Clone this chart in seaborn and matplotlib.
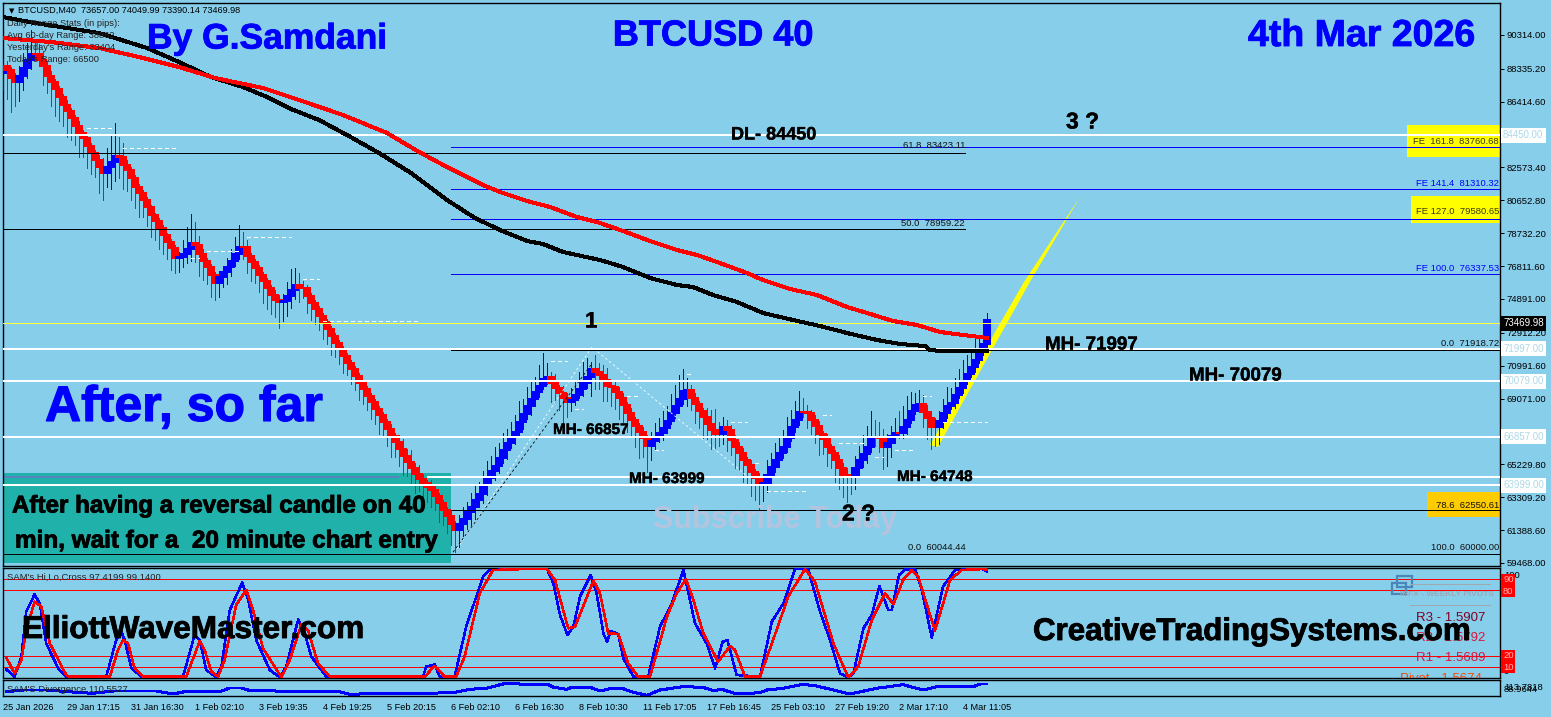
import matplotlib
matplotlib.use("Agg")
import matplotlib.pyplot as plt
import matplotlib.patheffects as pe
from matplotlib.patches import Rectangle
import seaborn as sns
import numpy as np

# 40 minute candles, one close per bar
closes = [
    88502, 88269, 87801, 87568, 87918, 88385, 88853, 89203, 89203, 88853,
    88502, 87918, 87568, 87159, 86691, 86224, 85873, 85464, 84997, 84588,
    84296, 83829, 83420, 83011, 82602, 82251, 82602, 82894, 83245, 83186,
    82719, 82427, 81959, 81433, 81083, 80674, 80265, 79798, 79447, 79038,
    78629, 78220, 77870, 77286, 77344, 77519, 77812, 78162, 78045, 77519,
    77110, 76760, 76293, 75825, 76176, 76466, 76760, 77110, 77519, 77928,
    77928, 77403, 77052, 76701, 76293, 75942, 75533, 75124, 74832, 74715,
    74773, 75065, 75416, 75708, 75533, 75533, 75065, 74656, 74306, 73897,
    73547, 73138, 72729, 72320, 71970, 71560, 71152, 70801, 70392, 69983,
    69632, 69224, 68873, 68465, 68114, 67705, 67296, 66887, 66537, 66128,
    65719, 65368, 65017, 64667, 64375, 64141, 63907, 63732, 63382, 62973,
    62564, 62213, 61746, 61395, 61746, 62038, 62447, 62739, 63148, 63498,
    64024, 64433, 64842, 65134, 65602, 66069, 66478, 66828, 67120, 67705,
    68172, 68640, 69049, 69457, 69808, 70217, 70334, 69983, 69691, 69399,
    69107, 68873, 68990, 69282, 69632, 69983, 70334, 70801, 70626, 70451,
    70158, 69808, 69749, 69457, 69107, 68698, 68231, 67822, 67471, 67120,
    66769, 66302, 66595, 66828, 67062, 67354, 67763, 68231, 68640, 69049,
    69516, 69574, 69107, 68756, 68347, 67997, 67588, 67237, 67004, 67004,
    67413, 67237, 66653, 66244, 65893, 65485, 65193, 64784, 64433, 64083,
    64141, 64609, 65076, 65485, 65893, 66244, 66770, 67413, 67822, 68290,
    68290, 68231, 67822, 67471, 67004, 66711, 66244, 65893, 65485, 65017,
    64609, 64550, 64492, 65017, 65485, 65836, 66244, 66828, 66828, 66770,
    66244, 66478, 66887, 67062, 67062, 67413, 67822, 68347, 68698, 68756,
    68289, 67938, 67413, 67413, 67763, 68231, 68640, 68815, 69282, 69691,
    70100, 70509, 70918, 71327, 71794, 72262, 73664,
]
first_open = 88100
upper_wick = [
    400, 300, 200, 300, 600, 900, 1000, 1400, 800, 600,
    500, 300, 300, 200, 200, 200, 300, 200, 200, 300,
    200, 200, 200, 200, 300, 500, 1100, 1500, 1900, 1100,
    800, 300, 200, 200, 200, 200, 200, 100, 100, 200,
    200, 100, 200, 200, 300, 800, 1300, 1700, 1200, 500,
    300, 200, 200, 200, 300, 300, 500, 700, 1000, 1300,
    900, 400, 200, 200, 200, 200, 200, 200, 300, 300,
    400, 800, 1200, 1000, 700, 400, 200, 200, 200, 200,
    150, 200, 150, 200, 150, 200, 200, 150, 200, 200,
    200, 150, 200, 200, 150, 200, 200, 300, 200, 400,
    600, 400, 700, 300, 500, 300, 200, 400, 300, 200,
    200, 200, 300, 200, 500, 700, 600, 800, 900, 700,
    800, 1000, 900, 1100, 900, 1000, 800, 900, 1000, 1200,
    900, 1100, 1000, 900, 1200, 1500, 800, 300, 500, 200,
    400, 300, 700, 800, 1000, 1200, 1100, 400, 800, 500,
    600, 700, 300, 400, 300, 300, 200, 300, 200, 200,
    300, 200, 500, 800, 900, 1000, 900, 1100, 1200, 1400,
    1300, 700, 300, 300, 200, 200, 500, 800, 1200, 700,
    600, 400, 300, 300, 300, 300, 200, 300, 200, 300,
    300, 900, 800, 1000, 900, 1000, 1200, 1000, 1100, 1200,
    800, 400, 200, 300, 300, 200, 300, 200, 200, 300,
    300, 400, 500, 700, 800, 1100, 1200, 1500, 1000, 900,
    500, 500, 600, 900, 1300, 1200, 1400, 1100, 700, 800,
    500, 400, 400, 500, 600, 800, 1100, 900, 1000, 1100,
    1200, 1100, 1000, 1200, 1000, 700, 400,
]
lower_wick = [
    1000, 1700, 2000, 1400, 1100, 800, 600, 500, 300, 200,
    1100, 1000, 1400, 1600, 1400, 1200, 1500, 1300, 1100, 1400,
    1100, 1300, 1200, 1000, 1500, 1600, 800, 1300, 1100, 1200,
    1400, 1200, 1300, 1200, 1400, 1000, 1100, 1300, 1100, 1200,
    1100, 1000, 1300, 900, 800, 600, 500, 700, 1000, 1300,
    1100, 1000, 1300, 1000, 800, 600, 700, 500, 300, 300,
    700, 1000, 1100, 900, 1000, 1300, 1200, 1100, 1000, 1500,
    1100, 900, 700, 500, 800, 600, 1000, 1000, 900, 800,
    1000, 900, 1100, 800, 900, 1000, 700, 900, 800, 1000,
    900, 800, 1000, 900, 1100, 800, 1000, 1200, 900, 1000,
    1100, 800, 1000, 1100, 700, 1000, 900, 1000, 800, 1100,
    900, 1000, 1200, 1300, 1000, 700, 600, 800, 700, 400,
    500, 600, 300, 500, 400, 300, 500, 300, 400, 300,
    400, 300, 500, 400, 300, 200, 300, 1100, 800, 1000,
    1500, 900, 500, 300, 200, 400, 300, 1100, 1000, 800,
    1200, 900, 1100, 1000, 1200, 1000, 1100, 900, 1200, 1500,
    1100, 1500, 800, 500, 300, 400, 300, 200, 300, 400,
    300, 900, 700, 1100, 1000, 1200, 900, 1100, 800, 700,
    600, 1200, 900, 1200, 1000, 1300, 1100, 1400, 1300, 1600,
    1000, 500, 600, 300, 400, 300, 300, 200, 300, 300,
    300, 900, 800, 1000, 1200, 900, 1100, 900, 1300, 1200,
    1300, 1500, 1000, 700, 500, 400, 500, 300, 500, 800,
    1300, 1100, 800, 400, 300, 300, 400, 200, 200, 300,
    900, 1200, 1300, 1100, 1000, 400, 300, 200, 300, 200,
    300, 200, 200, 300, 200, 200, 300,
]

# moving averages
black_ma_bars = [0, 8, 16, 24, 36, 44, 52, 60, 66, 72, 79, 86, 94, 102, 111, 118, 124.25, 131, 135, 140,
                 149.25, 155, 161.75, 168.5, 172.5, 177.5, 183.5, 190, 197.5, 204.25, 211, 218.5, 224.25,
                 230.5, 231.75, 234.25, 246]
black_ma = [91365, 91014, 90722, 90430, 89554, 88736, 87860, 87276, 86691, 85990, 85348, 84471, 83420,
            82251, 80674, 79622, 78921, 78279, 78104, 77636, 77169, 76760, 76117, 75708, 75591, 75124,
            74715, 74072, 73664, 73313, 72904, 72495, 72262, 72145, 71911, 71853, 71853]
red_ma_bars = [0, 12, 24, 34, 44, 53, 65, 74, 85, 96, 104, 111, 120, 124.25, 131, 136.75, 143.5, 148.5,
               155, 161.75, 168.5, 173.5, 178.5, 186, 190, 196.75, 203.5, 211, 216, 222.5, 228.5, 234.25, 246]
red_ma = [90138, 89904, 89554, 89028, 88444, 87801, 87217, 86516, 85640, 84588, 83478, 82602, 81550,
          81141, 80616, 80265, 79681, 79389, 78863, 78279, 77753, 77461, 77052, 76409, 76000, 75474,
          75124, 74423, 74072, 73605, 73372, 72963, 72612]

# price levels
white_levels = [84450, 71997, 70079, 66857, 63999]
low_level = 64490  # no tag on the scale, runs under the teal box
full_black_levels = [83423.11, 78959.22, 60000.00]
fib_black_levels = [71918.72, 62550.61]
fe_levels = [83760.68, 81310.32, 79580.65, 76337.53]
bid_price = 73469.98

# right hand scale
price_ticks = [90314.00, 88335.20, 86414.60, 82573.40, 80652.80, 78732.20, 76811.60, 74891.00,
               72912.20, 70991.60, 69071.00, 67150.40, 65229.80, 63309.20, 61388.60, 59468.00]

# dotted pivots drawn after swings
pivot_start = [21, 30, 47, 51, 61, 75, 80, 106, 137, 143, 156, 163, 171, 182, 188, 191, 205, 209, 218, 223, 230, 235]
pivot_end = [28, 44, 49, 59, 72, 79, 104, 111, 141, 145, 159, 165, 172, 186, 189, 201, 207, 216, 220, 228, 232, 246]
pivot_price = [84880, 83712, 77286, 77695, 78512, 76058, 73605, 64492, 71268, 68465, 69224, 66069,
               70509, 67705, 65309, 63674, 68114, 66478, 65660, 66069, 69224, 67705]

# wave drawing
wedge_bars = [231.75, 255.25, 269.25, 257, 233.75]
wedge_prices = [66361, 75884, 80849, 76000, 66245]
zig_bars_white = [113.5, 147.25, 186.25]
zig_prices_white = [60300, 72086, 64492]
zig_bars_black = [112.5, 147]
zig_prices_black = [60100, 71035]

# SAM's Hi,Lo,Cross
hilo_blue_bars = [0.8, 2.9, 4.6, 5.8, 7.9, 9.2, 10.8, 13.8, 15.8, 25.8, 28.3, 29.6, 30.4, 32.1, 34.6, 45,
                  47.9, 49.2, 50.8, 53.3, 54.6, 56.7, 59.8, 61.3, 63.3, 66.7, 69.2, 70.8, 73.8, 75.4,
                  77.1, 80.8, 105, 105.8, 107.9, 109.2, 112.9, 115.8, 120, 121.7, 130, 136, 137.6,
                  139.25, 141.1, 142.6, 144.25, 146.9, 148.4, 150.1, 151, 151.9, 153.8, 155.1, 157.6,
                  161.3, 164.25, 167.2, 170.1, 173, 175.9, 178, 179.9, 181.1, 183.4, 189.25, 192.2,
                  195.1, 198, 201.3, 204.25, 206.75, 209.25, 211.3, 212.6, 215.1, 217.2, 219.1, 221.3,
                  222.2, 224, 225.5, 228, 229.7, 232.2, 235, 238, 245, 246]
hilo_blue = [7.9, 1.2, 19.4, 60.3, 76, 67.9, 31.5, 8.8, 1.2, 1.2, 34.5, 42.1, 34.5, 8.8, 1.2, 1.2,
             39.1, 34.5, 7.3, 0.6, 10.3, 61.8, 86.7, 70.9, 34.5, 7.3, 0.6, 10.3, 53.3, 40.6,
             19.4, 1.2, 1.2, 10.3, 12.4, 1.2, 1.2, 46.7, 92.1, 98.2, 99, 99, 86,
             57.3, 39.1, 46.7, 73.9, 93.6, 77, 40.6, 33, 42.7, 40, 17.9, 1.2,
             1.2, 46.7, 67.9, 98.2, 49.7, 31.5, 8.8, 33, 34.5, 2.7, 1.2, 51.2,
             67.9, 99, 99, 60.3, 34.5, 4.2, 0.6, 4.2, 45.2, 57.3, 83.6, 61.8,
             61.8, 93.6, 98.8, 98.8, 80, 36.7, 83, 98.2, 99, 96.7]
hilo_red_bars = [0.8, 2.9, 4.6, 5.8, 7.9, 9.6, 11.7, 15.8, 16.7, 26.7, 28.75, 30, 31.25, 32.9, 35, 45.8,
                 49.2, 50.4, 52.1, 53.75, 55.4, 58.3, 60.8, 62.5, 65, 69.6, 71.7, 74.6, 76.25, 78.75,
                 81.7, 105.4, 107.9, 110.4, 113.3, 115.4, 119.2, 122.5, 130, 136, 138, 141.3, 143,
                 147.6, 149.25, 151.3, 153.8, 156.3, 158.8, 161.75, 166, 168.4, 170.75, 172.6, 175.1,
                 178.8, 181.75, 183, 185.5, 189.25, 193.4, 196.3, 200.5, 203, 207.6, 211.3, 213.8,
                 217.2, 220.5, 222.6, 225, 227.2, 228.8, 233, 236.75, 239.7, 245, 246]
hilo_red = [18.8, 4.2, 16.4, 43.6, 69.4, 64.8, 31.5, 2.7, 1.2, 1.2, 25.5, 34.5, 31.5, 8.8, 1.2, 1.2,
            33.6, 25.5, 5.8, 1.2, 16.4, 66.4, 80, 61.8, 27, 0.6, 16.4, 49, 43.6, 13.3,
            1.2, 1.2, 10.9, 1.2, 1.2, 19.4, 77, 98.2, 99, 99, 89, 45.2, 46.7,
            88.5, 77, 40.6, 40, 13.3, 1.2, 1.2, 55.8, 77, 90, 70.9, 40.6,
            14.8, 29, 25.5, 1.2, 1.2, 43.6, 73.9, 99, 87.6, 31.5, 0.6, 10.3,
            52.7, 77, 67, 89, 98.2, 92, 43, 89, 98.2, 99, 98.2]
hilo_levels = [90, 80, 20, 10]

# SAM's Divergence
div_bars = [0.8, 5, 10.8, 18.3, 22.5, 27.5, 38.3, 42.5, 45.4, 49.2, 54.2, 56.7, 59.6, 62.1, 66.7, 69.2,
            83.3, 86.7, 89.2, 105, 112.5, 116.7, 120.8, 125, 127.5, 130, 136, 137.6, 141, 142.2, 146.75,
            149.25, 151.75, 155, 157.6, 161, 164.25, 167.2, 170, 175, 177.6, 179.7, 183.4, 189.25, 191,
            195, 200, 203.4, 211.75, 218.4, 225, 230, 234.25, 242.6, 244.25, 246]
div_values = [95.3, 98, 98, 94.3, 92.7, 96.4, 96.4, 91.6, 95.3, 95.3, 95.3, 101.2, 101.2, 96.4, 98, 95.3,
              96.4, 91.1, 91.6, 92.7, 93.7, 99.1, 100.7, 107.6, 108.7, 107.1, 107.6, 102.3, 99.1, 102.3, 102.3,
              96.4, 100.1, 100.1, 94.3, 89.5, 98, 100.7, 103.3, 102.3, 96.9, 99.1, 91.6, 93.7, 98,
              100.7, 107.1, 104.4, 91.6, 100.7, 106.5, 98, 104.4, 103.3, 107.6, 107.6]

# bottom axis, one label every 16 bars
time_labels = ["25 Jan 2026", "29 Jan 17:15", "31 Jan 16:30", "1 Feb 02:10", "3 Feb 19:35", "4 Feb 19:25",
               "5 Feb 20:15", "6 Feb 02:10", "6 Feb 16:30", "8 Feb 10:30", "11 Feb 17:05", "17 Feb 16:45",
               "25 Feb 03:10", "27 Feb 19:20", "2 Mar 17:10", "4 Mar 11:05"]

W, H = 1551, 717
BG = "#87CEEB"
TEAL = "#20B2AA"
PX = 0.72  # one pixel at dpi 100, aliased lines stay crisp at whole pixels
sns.set_theme(style="white", rc={"axes.facecolor": BG, "figure.facecolor": BG, "axes.edgecolor": "black"})
plt.rcParams["font.family"] = ["Liberation Sans", "DejaVu Sans"]
plt.rcParams["lines.antialiased"] = False

fig = plt.figure(figsize=(W / 100, H / 100), dpi=100)


def panel(top, bottom, left=3, right=1500):
    return fig.add_axes([left / W, 1 - bottom / H, (right - left) / W, (bottom - top) / H])


def label(x, y, s, **kw):
    kw.setdefault("va", "center")
    kw.setdefault("ha", "left")
    return fig.text(x / W, 1 - y / H, s, **kw)


def heavy(x, y, s, size, color="black", stroke=0.6, **kw):
    # the chart's big captions look doubled up, a thin stroke gets close
    t = label(x, y, s, fontsize=size, fontweight="bold", color=color, **kw)
    t.set_path_effects([pe.withStroke(linewidth=stroke, foreground=color)])
    return t


def scale_y(price):
    return (92183 - price) / (92183 - 59292) * 563 + 3


main = panel(3, 566)
hilo = panel(568, 678)
div = panel(680, 696)

bar_max = (1500 - 3) / 4
for ax in (main, hilo, div):
    ax.set_xlim(0, bar_max)
    for sp in ax.spines.values():
        sp.set_linewidth(1.0)
        sp.set_color("black")
    ax.set_xticks([])
    ax.set_yticks([])

main.set_ylim(59292, 92183)
hilo.set_ylim(0, 100)
div.set_ylim(88.4, 114)

# candles
bars = np.arange(len(closes))
close_arr = np.array(closes, dtype=float)
open_arr = np.r_[first_open, close_arr[:-1]]
top = np.maximum(open_arr, close_arr)
bot = np.minimum(open_arr, close_arr)
colors = ["#0000FF" if c > o else "#FF0000" for c, o in zip(close_arr, open_arr)]

main.add_patch(Rectangle((0, 59468), 112, 64725 - 59468, fc=TEAL, ec="none", zorder=1))
# colour boxes behind the fib labels
for b0, b1, p0, p1, c in [(351, bar_max, 83186, 85056, "#FFFF00"), (352, bar_max, 79330, 80908, "#FFFF00"),
                          (356, bar_max, 62155, 63615, "#FFCC00")]:
    main.add_patch(Rectangle((b0, p0), b1 - b0, p1 - p0, fc=c, ec="none", zorder=1))

main.fill(wedge_bars, wedge_prices, color="#FFFF00", lw=0, zorder=2)
main.vlines(bars, bot - np.array(lower_wick), top + np.array(upper_wick), colors=colors, lw=PX,
            antialiased=False, zorder=3)
main.bar(bars, top - bot, bottom=bot, width=1.6, color=colors, edgecolor=colors, linewidth=0.3,
         antialiased=False, zorder=4)

main.hlines(pivot_price, pivot_start, pivot_end, colors="white", lw=PX, linestyles=(0, (4, 4)), zorder=5)
sns.lineplot(x=zig_bars_white, y=zig_prices_white, color="white", lw=0.6, ls=(0, (3, 3)), sort=False,
             estimator=None, antialiased=True, ax=main, zorder=5)
sns.lineplot(x=zig_bars_black, y=zig_prices_black, color="black", lw=0.6, ls=(0, (3, 3)), sort=False,
             estimator=None, antialiased=True, ax=main, zorder=5)

main.axhline(bid_price, color="#FFFF33", lw=PX, zorder=5)
for lvl in full_black_levels[:2]:
    main.hlines(lvl, 0, 240.5, color="black", lw=PX, zorder=5)
main.axhline(full_black_levels[2], color="black", lw=PX, zorder=5)
main.hlines(fib_black_levels, 112, bar_max, color="black", lw=PX, zorder=6)
main.hlines(fe_levels, 112, bar_max, color="#0000FF", lw=PX, zorder=5)
for lvl in white_levels:
    main.axhline(lvl, color="white", lw=2 * PX, zorder=5.5)
main.hlines(low_level, 0, 99, color="#5A82C0", lw=2 * PX, zorder=2)
main.hlines(low_level, 106, bar_max, color="white", lw=2 * PX, zorder=5.5)

sns.lineplot(x=black_ma_bars, y=black_ma, color="black", lw=3 * PX, estimator=None, ax=main, zorder=7)
sns.lineplot(x=red_ma_bars, y=red_ma, color="#FF0000", lw=3 * PX, estimator=None, ax=main, zorder=7)
main.set_xlabel("")
main.set_ylabel("")

main.yaxis.tick_right()
main.set_yticks(price_ticks)
main.set_yticklabels([f"{t:.2f}" for t in price_ticks], fontsize=6.8, color="black")
main.tick_params(axis="y", length=3, width=PX, pad=2, color="black")

# indicator panes
for lvl in hilo_levels:
    hilo.axhline(lvl, color="#FF0000", lw=PX, zorder=1)
sns.lineplot(x=hilo_blue_bars, y=hilo_blue, color="#0000FF", lw=1.1, estimator=None, ax=hilo, zorder=3)
sns.lineplot(x=hilo_red_bars, y=hilo_red, color="#FF0000", lw=1.1, estimator=None, ax=hilo, zorder=4)
hilo.set_ylabel("")
sns.lineplot(x=div_bars, y=div_values, color="#0000FF", lw=2 * PX, estimator=None, ax=div)
div.set_ylabel("")
div.set_xticks(np.arange(len(time_labels)) * 16)
div.set_xticklabels(time_labels, fontsize=6.6, ha="left", color="black")
div.tick_params(axis="x", length=3, width=PX, pad=2, color="black")

# header text
label(9, 11, "\u25BC", fontsize=5, family="DejaVu Sans", color="black")
label(18, 10, "BTCUSD,M40  73657.00 74049.99 73390.14 73469.98", fontsize=6.6, color="black")
for y, s in [(24, "Daily Range Stats (in pips):"), (36, "Avg 60-day Range: 38862"),
             (48, "Yesterday's Range: 33404"), (60, "Today's Range: 66500")]:
    label(7, y, s, fontsize=6.7, color="#222222")

heavy(147, 39, "By G.Samdani", 25.5, color="#0000FF")
heavy(713, 36, "BTCUSD 40", 26, color="#0000FF", ha="center")
heavy(1248, 36, "4th Mar 2026", 27, color="#0000FF")
heavy(45, 408, "After, so far", 36, color="#0000FF", stroke=0.8)

heavy(12, 506, "After having a reversal candle on 40", 17.4)
heavy(15, 541, "min, wait for a  20 minute chart entry", 17.5)
heavy(22, 630, "ElliottWaveMaster.com", 22.7, zorder=10)
heavy(1033, 632, "CreativeTradingSystems.com", 22.5, zorder=10)
label(653, 520, "Subscribe Today", fontsize=22, fontweight="bold", color="#B4C4DE", zorder=1)

for x, y, s, fs in [(731, 135, "DL- 84450", 13), (1045, 345, "MH- 71997", 13.5), (1189, 376, "MH- 70079", 13.5),
                    (553, 430, "MH- 66857", 11), (629, 479, "MH- 63999", 11), (897, 477, "MH- 64748", 11)]:
    heavy(x, y, s, fs, stroke=0.3, zorder=10)
heavy(585, 322, "1", 16, stroke=0.3, zorder=10)
heavy(1066, 122, "3 ?", 16.5, stroke=0.3, zorder=10)
heavy(842, 514, "2 ?", 16.5, stroke=0.3, zorder=10)

# fib labels
for xr, y, s, c in [(965, 146, "61.8  83423.11", "#111111"), (965, 224, "50.0  78959.22", "#111111"),
                    (966, 548, "0.0  60044.44", "#111111"), (1499, 184, "FE 141.4  81310.32", "#0000FF"),
                    (1499, 269, "FE 100.0  76337.53", "#0000FF"), (1499, 343, "0.0  71918.72", "#111111"),
                    (1499, 548, "100.0  60000.00", "#111111"), (1499, 505, "78.6  62550.61", "#111111"),
                    (1499, 141, "FE  161.8  83760.68", "#3A3A00"), (1499, 212, "FE 127.0  79580.65", "#3A3A00")]:
    label(xr, y, s, fontsize=6.8, color=c, ha="right", zorder=9)

# price tags on the scale
for lvl in white_levels:
    label(1503, scale_y(lvl), f"{lvl:.2f}", fontsize=7, color="#ADD8E6",
          bbox=dict(boxstyle="square,pad=0.25", fc="white", ec="none"), zorder=8)
label(1503, scale_y(bid_price), f"{bid_price:.2f}", fontsize=7, color="white",
      bbox=dict(boxstyle="square,pad=0.25", fc="black", ec="none"), zorder=8)

# indicator labels
label(7, 577, "SAM's Hi,Lo,Cross 97.4199 99.1400", fontsize=6.8, color="#222222", zorder=9)
label(7, 689, "SAM'S Divergence 110.5527", fontsize=6.8, color="#222222", zorder=9)
label(1504, 575, "100", fontsize=6.8, color="black")
label(1504, 672, "0", fontsize=6.8, color="black")
for lvl, y in zip(hilo_levels, [580, 591, 656, 667]):
    label(1503, y, str(lvl), fontsize=6.8, color="#FFB0B0",
          bbox=dict(boxstyle="square,pad=0.18", fc="#FF0000", ec="none"), zorder=8)
label(1504, 687, "113.7818", fontsize=6.8, color="black")
label(1504, 689, "88.9644", fontsize=6.8, color="black")

# weekly pivots panel ghosted in the corner
for x0, y0, x1, y1 in [(1397, 576, 1412, 587), (1392, 583, 1406, 594)]:
    fig.add_artist(Rectangle((x0 / W, 1 - y1 / H), (x1 - x0) / W, (y1 - y0) / H, fc="none", ec="#4A86B8", lw=1.6,
                             transform=fig.transFigure))
for y in (584, 605):
    fig.add_artist(plt.Line2D([1410 / W, 1490 / W], [1 - y / H, 1 - y / H], color="#A0A8B0", lw=PX))
label(1400, 595, "IBFX - WEEKLY PIVOTS", fontsize=6, fontweight="bold", color="#9AA9B5")
label(1416, 618, "R3 - 1.5907", fontsize=9.5, color="#800020")
label(1416, 638, "R2 - 1.5792", fontsize=9.5, color="#DC143C")
label(1416, 658, "R1 - 1.5689", fontsize=9.5, color="#DC143C")
hilo.text(1400 / W, 1 - 679 / H, "Pivot - 1.5674", fontsize=9.5, color="#FF4500", va="center",
          transform=fig.transFigure, clip_on=True)

fig.savefig("out.png", dpi=100, facecolor=BG)
